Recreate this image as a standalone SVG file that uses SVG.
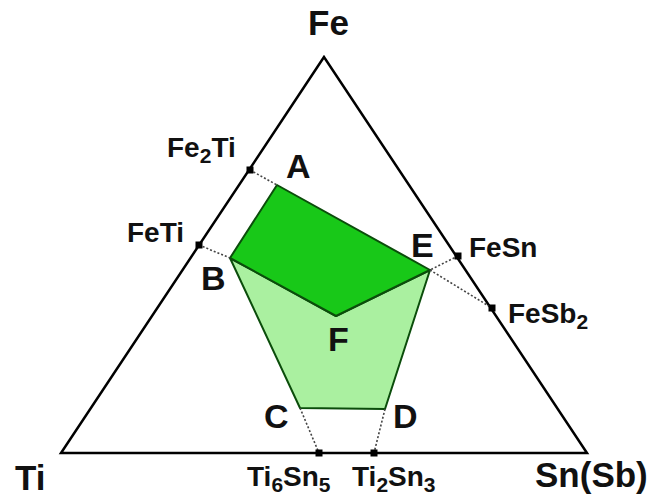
<svg xmlns="http://www.w3.org/2000/svg" width="661" height="503" viewBox="0 0 661 503">
<style>
text{font-family:"Liberation Sans",Arial,sans-serif;font-weight:bold;fill:#111}
.big{font-size:35px}
.lt{font-size:34px}
.cmp{font-size:28px}
.sub{font-size:21px}
.dot{stroke:#444;stroke-width:1.6;stroke-dasharray:2,2;fill:none}
.edge{stroke:#0b4d0b;stroke-width:2;stroke-linejoin:round}
.pt{fill:#000}
</style>
<rect width="661" height="503" fill="#fff"/>
<g id="phases">
<polygon id="region-BFEDC" class="edge" fill="#aaf0a0" points="230,258 336,316 430,270 385,409 300,408"/>
<polygon id="region-AEFB" class="edge" fill="#18c818" points="277,185 430,270 336,316 230,258"/>
</g>
<g id="triangle">
<polygon points="324,57 61,453 587,453" fill="none" stroke="#000" stroke-width="2.5" stroke-linejoin="miter"/>
</g>
<g id="connectors">
<line class="dot" x1="250" y1="170" x2="277" y2="185"/>
<line class="dot" x1="199" y1="245" x2="230" y2="258"/>
<line class="dot" x1="458" y1="256" x2="430" y2="270"/>
<line class="dot" x1="430" y1="270" x2="492" y2="308"/>
<line class="dot" x1="300" y1="408" x2="319" y2="453"/>
<line class="dot" x1="385" y1="409" x2="374" y2="453"/>
</g>
<g id="points">
<rect class="pt" x="246.5" y="166.5" width="7" height="7"/>
<rect class="pt" x="195.5" y="241.5" width="7" height="7"/>
<rect class="pt" x="454.5" y="252.5" width="7" height="7"/>
<rect class="pt" x="488.5" y="304.5" width="7" height="7"/>
<rect class="pt" x="315.5" y="449.5" width="7" height="7"/>
<rect class="pt" x="370.5" y="449.5" width="7" height="7"/>
</g>
<g id="labels">
<text class="big" x="308" y="35">Fe</text>
<text class="big" x="15" y="490">Ti</text>
<text class="big" x="535" y="487">Sn(Sb)</text>
<text class="cmp" x="167" y="157">Fe<tspan class="sub" dy="6">2</tspan><tspan dy="-6">Ti</tspan></text>
<text class="cmp" x="127" y="242">FeTi</text>
<text class="cmp" x="469" y="257">FeSn</text>
<text class="cmp" x="508" y="323">FeSb<tspan class="sub" dy="6">2</tspan></text>
<text class="cmp" x="247" y="486">Ti<tspan class="sub" dy="6">6</tspan><tspan dy="-6">Sn</tspan><tspan class="sub" dy="6">5</tspan></text>
<text class="cmp" x="352" y="486">Ti<tspan class="sub" dy="6">2</tspan><tspan dy="-6">Sn</tspan><tspan class="sub" dy="6">3</tspan></text>
<text class="lt" x="286" y="178">A</text>
<text class="lt" x="201" y="290">B</text>
<text class="lt" x="264" y="428">C</text>
<text class="lt" x="393" y="428">D</text>
<text class="lt" x="411" y="257">E</text>
<text class="lt" x="328" y="351">F</text>
</g>
</svg>
